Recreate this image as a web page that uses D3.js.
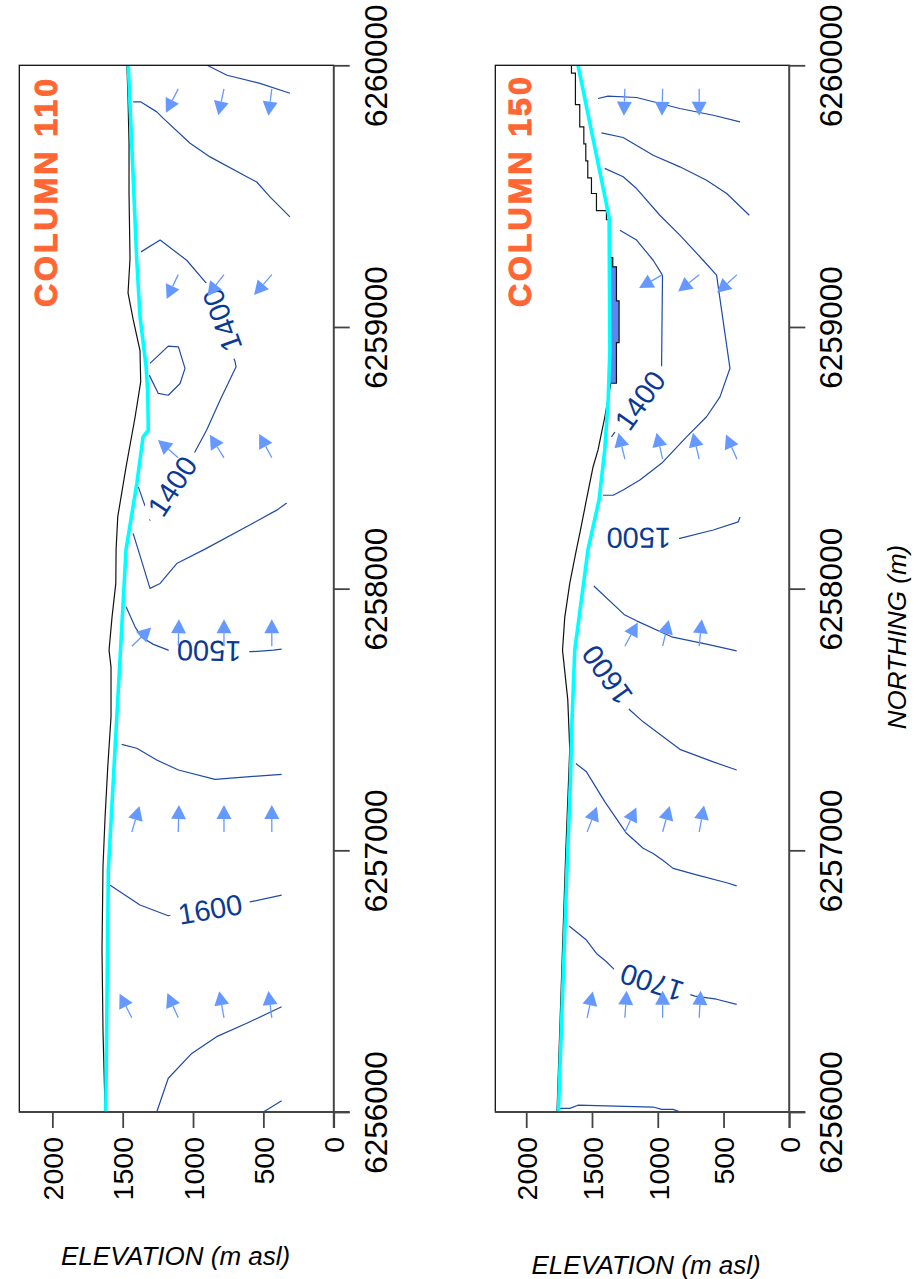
<!DOCTYPE html>
<html>
<head>
<meta charset="utf-8">
<script src="https://cdn.jsdelivr.net/npm/d3@7"></script>
<style>
  html, body { margin: 0; padding: 0; background: #ffffff; }
  svg { display: block; font-family: "Liberation Sans", Arial, sans-serif; }
</style>
</head>
<body>
<svg id="chart" width="916" height="1279"></svg>
<script>
// ---------- axis ticks and titles ----------
const northingTicks = [6256000, 6257000, 6258000, 6259000, 6260000];
const elevationTicks = [0, 500, 1000, 1500, 2000];
const panelTitles = ["COLUMN 110", "COLUMN 150"];
const elevationTitle = "ELEVATION (m asl)";
const northingTitle = "NORTHING (m)";

// ---------- column 110 : [northing, elevation] ----------
const ground110 = [
  [6260000,1470],[6259870,1462],[6259700,1455],[6259510,1455],[6259260,1448],[6259130,1462],
  [6259030,1426],[6258910,1377],[6258790,1372],[6258655,1412],[6258465,1476],[6258275,1535],
  [6258150,1547],[6258020,1549],[6257890,1576],[6257765,1597],[6257700,1583],[6257510,1583],
  [6257320,1606],[6257130,1625],[6256940,1640],[6256620,1647],[6256310,1640],[6256000,1625]
];
const water110 = [
  [6260000,1460],[6259255,1400],[6259040,1377],[6258850,1334],[6258750,1322],[6258605,1318],
  [6258580,1355],[6258400,1400],[6258150,1476],[6256925,1602],[6256000,1620]
];
const contours110 = [
  [[6260000,900],[6259962,758],[6259931,524],[6259893,311]],
  [[6259860,1426],[6259860,1370],[6259822,1258],[6259798,1213],[6259702,1021],[6259650,879],
   [6259574,618],[6259554,547],[6259497,453],[6259421,311]],
  [[6258389,1389],[6258262,1306],[6258523,986],[6258606,903],[6258720,808],[6258848,694],
   [6258867,701],[6259166,903],[6259255,1045],[6259332,1234],[6259287,1370]],
  [[6258861,1306],[6258927,1176],[6258924,1104],[6258842,1057],[6258784,1092],[6258739,1176],
   [6258746,1247],[6258816,1311]],
  [[6258211,1426],[6258147,1389],[6258001,1306],[6258020,1234],[6258096,1116],[6258151,915],
   [6258250,574],[6258300,405],[6258327,334]],
  [[6257769,370],[6257765,429],[6257759,583],[6257765,1176],[6257787,1282],[6257814,1365],
   [6257854,1412],[6257931,1476]],
  [[6257405,1507],[6257390,1400],[6257345,1258],[6257307,1104],[6257271,844],[6257281,618],[6257290,370]],
  [[6256867,1589],[6256791,1377],[6256750,1176],[6256803,595],[6256829,370]],
  [[6256000,1258],[6256129,1176],[6256224,1009],[6256288,832],[6256339,618],[6256402,370]],
  [[6256000,500],[6256043,370]]
];
const labels110 = [
  [6259026, 794, "1400"], [6258392, 1149, "1400"], [6257761, 886, "1500"], [6256776, 879, "1600"]
];
// flow vectors: [northing, elevation, northward component, upward component]
const arrows110 = [
  [6259910,1105,-24.4,12.6],[6259910,780,-26.7,5.7],[6259910,440,-26.7,3.4],
  [6259200,1105,-24.3,11.6],[6259200,780,-18.3,14.3],[6259200,440,-20,17.4],
  [6258500,1105,16.6,19],[6258500,780,21.7,13.3],[6258500,440,23.4,12.4],
  [6257780,1435,18.4,-19],[6257780,1105,27.4,-0.7],[6257780,780,28,0],[6257780,440,27.4,0],
  [6257070,1435,26,-7.6],[6257070,1105,27.7,-0.7],[6257070,780,27.7,0],[6257070,440,27.7,0],
  [6256360,1435,24.3,12.4],[6256360,1105,25,11],[6256360,780,26.6,4.7],[6256360,440,26.6,3.4]
];

// ---------- column 150 ----------
const ground150 = [
  [6260000,1656],[6259970,1626],[6259850,1593],[6259765,1562],[6259700,1547],[6259635,1532],
  [6259570,1504],[6259510,1466],[6259445,1390],[6259410,1364],[6259265,1342],[6259230,1314],
  [6259100,1294],[6258940,1314],[6258785,1357],[6258655,1403],[6258530,1454],[6258465,1492],
  [6258340,1542],[6258210,1593],[6258150,1618],[6258020,1669],[6257890,1707],[6257765,1724],
  [6257575,1684],[6257385,1669],[6257000,1699],[6256430,1737],[6256000,1766]
];
const water150 = [
  [6260000,1606],[6259420,1370],[6258910,1364],[6258720,1377],[6258530,1403],[6258340,1446],
  [6258150,1530],[6257890,1598],[6257765,1631],[6257510,1651],[6257255,1664],[6256935,1689],
  [6256000,1755]
];
const contours150 = [
  [[6259873,1454],[6259882,1378],[6259877,1161],[6259835,832],[6259809,578],[6259784,375]],
  [[6259742,1428],[6259724,1263],[6259656,1035],[6259612,832],[6259561,629],[6259510,476],[6259427,304]],
  [[6259606,1403],[6259574,1263],[6259529,1161],[6259427,984],[6259351,832],[6259255,655],
   [6259198,553],[6258842,451],[6258733,527],[6258657,629],[6258580,781],[6258479,971],
   [6258415,1136],[6258377,1263],[6258357,1339],[6258357,1416]],
  [[6258580,1352],[6258848,971],[6259198,964],[6259255,1035],[6259332,1161],[6259370,1288]],
  [[6258274,375],[6258255,388],[6258224,578],[6258192,832],[6258193,1410]],
  [[6258010,1486],[6257899,1250],[6257877,1161],[6257816,895],[6257788,629],[6257762,400]],
  [[6257307,400],[6257338,578],[6257386,832],[6257491,1111],[6257536,1212],[6257784,1562]],
  [[6257332,1623],[6257300,1542],[6257186,1403],[6257065,1238],[6257008,1111],[6256988,1035],
   [6256963,964],[6256931,883],[6256906,705],[6256876,476],[6256864,400]],
  [[6256411,400],[6256431,553],[6256443,718],[6256543,1327],[6256574,1390],[6256606,1466],
   [6256657,1542],[6256711,1674]],
  [[6256014,1745],[6256014,1669],[6256026,1606],[6256019,1035],[6256010,971],[6256010,883],
   [6256001,832],[6256000,733]]
];
const labels150 = [
  [6258720, 1136, "1400"], [6258193, 1144, "1500"], [6257670, 1387, "1600"], [6256493, 1045, "1700"]
];
const arrows150 = [
  [6259910,1250,-27.7,1],[6259910,963,-27.7,0.7],[6259910,685,-26.7,0],
  [6259200,963,-13.3,23.4],[6259200,685,-16.7,20.7],[6259200,398,-18.3,20],
  [6258495,1250,23.4,5.7],[6258495,963,25,5.7],[6258495,685,24,5.7],[6258495,398,22.4,10],
  [6257780,1250,21.7,-11.7],[6257780,963,24,-5.6],[6257780,685,25,-2.4],
  [6257070,1537,24.4,-9.4],[6257070,1250,23.4,-11],[6257070,963,24.4,-6.6],[6257070,685,26,-4.7],
  [6256360,1537,25,-5.4],[6256360,1250,25.6,-1.7],[6256360,963,25.6,0],[6256360,685,25.6,-1.4]
];

// ---------- layout ----------
const W = 916, H = 1279;
const plotTop = 65.3, plotBottom = 1112;
const elevDomain = [0, 2235];
const northDomain = [6256000, 6260000];

// stepNorthOf: ground cells north of this northing are drawn as a staircase
const panels = [
  { title: panelTitles[0], ground: ground110, water: water110, contours: contours110,
    labels: labels110, arrows: arrows110, left: 19.3, right: 333.7, titleX: 57,
    elevTitleX: 61, elevTitleY: 1265, stepNorthOf: null },
  { title: panelTitles[1], ground: ground150, water: water150, contours: contours150,
    labels: labels150, arrows: arrows150, left: 495.3, right: 789.3, titleX: 530.5,
    elevTitleX: 531.5, elevTitleY: 1274, stepNorthOf: 6258785 }
];

const svg = d3.select("#chart");
const defs = svg.append("defs");
const y = d3.scaleLinear().domain(northDomain).range([plotBottom, plotTop]);

const CONTOUR = "#1f4aa6", LABEL = "#0b3a94", ARROW = "#6699ff";

panels.forEach((p, i) => {
  const x = d3.scaleLinear().domain(elevDomain).range([p.right, p.left]);
  const g = svg.append("g");

  // split the ground profile into a stepped part and a smooth part
  const groundParts = p.stepNorthOf == null
    ? [{ pts: p.ground, curve: d3.curveLinear }]
    : [{ pts: p.ground.filter(d => d[0] >= p.stepNorthOf), curve: d3.curveStepBefore },
       { pts: p.ground.filter(d => d[0] <= p.stepNorthOf), curve: d3.curveLinear }];

  // clip to plot frame
  const clipId = "plotclip" + i;
  defs.append("clipPath").attr("id", clipId)
    .append("rect").attr("x", p.left).attr("y", plotTop)
    .attr("width", p.right - p.left).attr("height", plotBottom - plotTop);

  // mask that opens gaps in contours where labels sit
  const maskId = "labelgap" + i;
  const mask = defs.append("mask").attr("id", maskId)
    .attr("maskUnits", "userSpaceOnUse")
    .attr("x", 0).attr("y", 0).attr("width", W).attr("height", H);
  mask.append("rect").attr("width", W).attr("height", H).attr("fill", "#fff");

  const plot = g.append("g").attr("clip-path", `url(#${clipId})`);

  // contour lines
  const cline = d3.line().x(d => x(d[1])).y(d => y(d[0]));
  plot.append("g").attr("mask", `url(#${maskId})`)
    .selectAll("path").data(p.contours).join("path")
    .attr("d", cline).attr("fill", "none")
    .attr("stroke", CONTOUR).attr("stroke-width", 1.2).attr("stroke-linejoin", "round");

  // contour labels, oriented along the nearest contour segment
  function segmentAngle(px, py) {
    let best = Infinity, ang = 0;
    p.contours.forEach(c => {
      for (let k = 0; k < c.length - 1; k++) {
        const ax = x(c[k][1]), ay = y(c[k][0]), bx = x(c[k + 1][1]), by = y(c[k + 1][0]);
        const dx = bx - ax, dy = by - ay, L2 = dx * dx + dy * dy;
        let t = L2 ? ((px - ax) * dx + (py - ay) * dy) / L2 : 0;
        t = Math.max(0, Math.min(1, t));
        const ex = ax + t * dx - px, ey = ay + t * dy - py, d2 = ex * ex + ey * ey;
        if (d2 < best) { best = d2; ang = Math.atan2(dy, dx) * 180 / Math.PI; }
      }
    });
    return ang;
  }
  p.labels.forEach(([n, e, txt]) => {
    const px = x(e), py = y(n), ang = segmentAngle(px, py);
    const t = plot.append("text")
      .attr("transform", `translate(${px},${py}) rotate(${ang})`)
      .attr("text-anchor", "middle").attr("dy", "0.36em")
      .attr("font-size", 29).attr("fill", LABEL).text(txt);
    const len = t.node().getComputedTextLength() + 16;
    mask.append("rect")
      .attr("transform", `translate(${px},${py}) rotate(${ang})`)
      .attr("x", -len / 2).attr("y", -12).attr("width", len).attr("height", 24)
      .attr("fill", "#000");
  });

  // flow arrows
  const AL = 27, HL = 14, HW = 7.5;
  const ag = plot.append("g");
  p.arrows.forEach(([n, e, vn, vz]) => {
    const x0 = x(e), y0 = y(n);
    const m = Math.hypot(vn, vz);
    const ux = -vz / m, uy = -vn / m;     // upward is to the left, north is up
    const bx = x0 + ux * (AL - HL), by = y0 + uy * (AL - HL);
    const tx = x0 + ux * AL, ty = y0 + uy * AL;
    const nx = -uy, ny = ux;
    ag.append("line").attr("x1", x0).attr("y1", y0).attr("x2", bx).attr("y2", by)
      .attr("stroke", ARROW).attr("stroke-width", 1.3);
    ag.append("path")
      .attr("d", `M${tx},${ty}L${bx + nx * HW},${by + ny * HW}L${bx - nx * HW},${by - ny * HW}Z`)
      .attr("fill", ARROW);
  });

  // ponded water where the water table rises above the ground
  const wetId = "belowwater" + i;
  defs.append("clipPath").attr("id", wetId).append("path")
    .attr("d", d3.area().y(d => y(d[0])).x0(x(0)).x1(d => x(d[1]))(p.water));
  groundParts.forEach(part => {
    plot.append("path")
      .attr("clip-path", `url(#${wetId})`)
      .attr("d", d3.area().curve(part.curve).y(d => y(d[0]))
        .x0(x(elevDomain[1])).x1(d => x(d[1]))(part.pts))
      .attr("fill", "#5f86ee");
  });

  // ground surface
  groundParts.forEach(part => {
    plot.append("path")
      .attr("d", d3.line().curve(part.curve).x(d => x(d[1])).y(d => y(d[0]))(part.pts))
      .attr("fill", "none").attr("stroke", "#111").attr("stroke-width", 1.2);
  });

  // water table
  plot.append("path")
    .attr("d", d3.line().x(d => x(d[1])).y(d => y(d[0]))(p.water))
    .attr("fill", "none").attr("stroke", "#00ffff").attr("stroke-width", 3.6)
    .attr("stroke-linejoin", "round");

  // frame
  g.append("rect").attr("x", p.left).attr("y", plotTop)
    .attr("width", p.right - p.left).attr("height", plotBottom - plotTop)
    .attr("fill", "none").attr("stroke", "#111").attr("stroke-width", 1.3);

  // elevation axis (bottom)
  const ax = g.append("g").attr("transform", `translate(0,${plotBottom})`)
    .call(d3.axisBottom(x).tickValues(elevationTicks).tickSize(16).tickFormat(d3.format("d")));
  ax.select(".domain").attr("stroke", "#444").attr("stroke-width", 1.8)
    .attr("d", `M${p.left},0H${p.right + 16}`);
  ax.selectAll(".tick line").attr("stroke", "#444").attr("stroke-width", 1.8);
  ax.selectAll(".tick text")
    .attr("x", 0).attr("y", 0).attr("dy", "0.36em")
    .attr("transform", "translate(0,25) rotate(-90)")
    .attr("text-anchor", "end").attr("fill", "#000")
    .attr("font-size", 28.5).attr("font-family", "Liberation Sans, Arial, sans-serif");

  // northing axis (right)
  const ay = g.append("g").attr("transform", `translate(${p.right},0)`)
    .call(d3.axisRight(y).tickValues(northingTicks).tickSize(16).tickFormat(d3.format("d")));
  ay.select(".domain").attr("stroke", "#444").attr("stroke-width", 1.8)
    .attr("d", `M0,${plotTop}V${plotBottom + 16}`);
  ay.selectAll(".tick line").attr("stroke", "#444").attr("stroke-width", 1.8);
  ay.selectAll(".tick text")
    .attr("x", 0).attr("y", 0).attr("dy", "0.36em")
    .attr("transform", "translate(41.5,0) rotate(-90)")
    .attr("text-anchor", "middle").attr("fill", "#000")
    .attr("font-size", 31.5).attr("font-family", "Liberation Sans, Arial, sans-serif");

  // panel title
  g.append("text")
    .attr("transform", `translate(${p.titleX},307) rotate(-90)`)
    .attr("text-anchor", "start")
    .attr("font-size", 32).attr("font-weight", "bold").attr("letter-spacing", 3)
    .attr("fill", "#ff6633").attr("stroke", "#ff6633").attr("stroke-width", 1.1)
    .text(p.title);

  // elevation axis title
  g.append("text")
    .attr("x", p.elevTitleX).attr("y", p.elevTitleY)
    .attr("font-size", 26).attr("font-style", "italic").attr("fill", "#000")
    .text(elevationTitle);
});

// shared northing title
svg.append("text")
  .attr("transform", "translate(906,637) rotate(-90)")
  .attr("text-anchor", "middle")
  .attr("font-size", 26).attr("font-style", "italic").attr("fill", "#000")
  .text(northingTitle);
</script>
</body>
</html>
